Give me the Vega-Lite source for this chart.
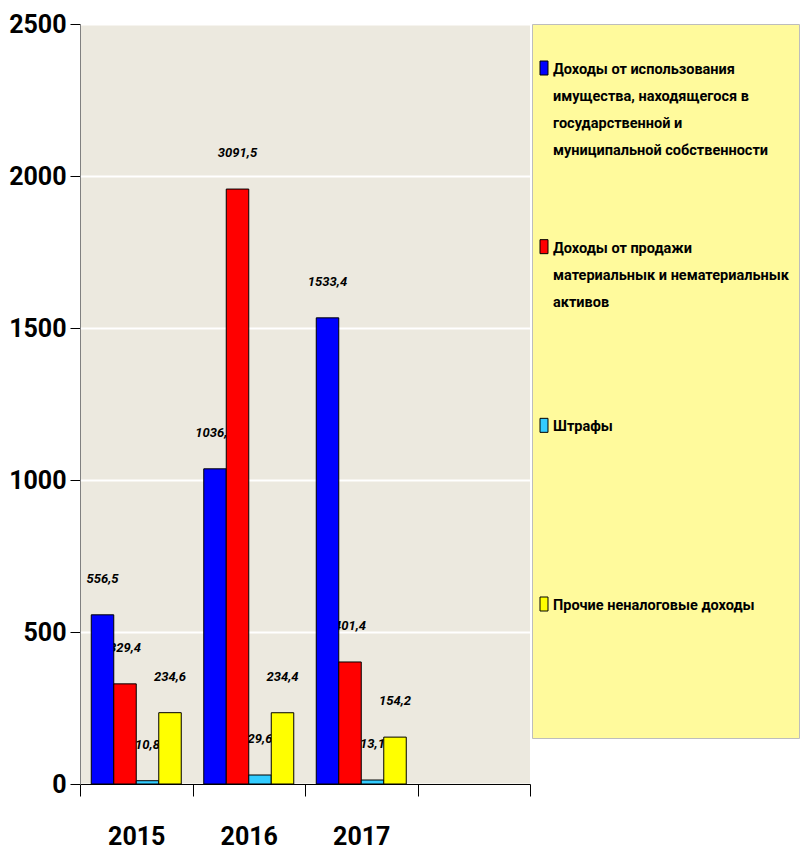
{
  "$schema": "https://vega.github.io/schema/vega-lite/v6.json",
  "background": "white",
  "padding": {"left": 8, "top": 12, "right": 0, "bottom": 0},
  "bounds": "flush",
  "spacing": 2,
  "config": {
    "font": "Roboto, Liberation Sans, sans-serif",
    "view": {"stroke": null}
  },
  "datasets": {
    "bars": [
      {"year": "2015", "series": "Доходы от использования имущества", "value": 556.5, "label": "556,5"},
      {"year": "2015", "series": "Доходы от продажи активов", "value": 329.4, "label": "329,4"},
      {"year": "2015", "series": "Штрафы", "value": 10.8, "label": "10,8"},
      {"year": "2015", "series": "Прочие неналоговые доходы", "value": 234.6, "label": "234,6"},
      {"year": "2016", "series": "Доходы от использования имущества", "value": 1036.8, "label": "1036,8"},
      {"year": "2016", "series": "Доходы от продажи активов", "value": 1957, "label": "3091,5"},
      {"year": "2016", "series": "Штрафы", "value": 29.6, "label": "29,6"},
      {"year": "2016", "series": "Прочие неналоговые доходы", "value": 234.4, "label": "234,4"},
      {"year": "2017", "series": "Доходы от использования имущества", "value": 1533.4, "label": "1533,4"},
      {"year": "2017", "series": "Доходы от продажи активов", "value": 401.4, "label": "401,4"},
      {"year": "2017", "series": "Штрафы", "value": 13.1, "label": "13,1"},
      {"year": "2017", "series": "Прочие неналоговые доходы", "value": 154.2, "label": "154,2"}
    ],
    "legend": [
      {"series": "Доходы от использования имущества", "lines": ["Доходы от использования", "имущества, находящегося в", "государственной и", "муниципальной собственности"]},
      {"series": "Доходы от продажи активов", "lines": ["Доходы от продажи", "материальнык и нематериальнык", "активов"]},
      {"series": "Штрафы", "lines": ["Штрафы"]},
      {"series": "Прочие неналоговые доходы", "lines": ["Прочие неналоговые доходы"]}
    ]
  },
  "hconcat": [
    {
      "width": 450,
      "height": 760,
      "view": {"fill": "#ECE9DF", "stroke": null},
      "data": {"name": "bars"},
      "encoding": {
        "x": {
          "field": "year", "type": "nominal",
          "scale": {"domain": ["2015", "2016", "2017", " "], "paddingInner": 0, "paddingOuter": 0},
          "axis": {
            "title": null, "labelAngle": 0, "labelFontSize": 25, "labelFontWeight": "bold",
            "labelColor": "black", "labelPadding": 28, "tickBand": "extent", "tickSize": 12,
            "tickColor": "black", "domainColor": "black", "grid": false
          }
        },
        "xOffset": {
          "field": "series", "type": "nominal",
          "scale": {"domain": ["Доходы от использования имущества", "Доходы от продажи активов", "Штрафы", "Прочие неналоговые доходы"], "paddingInner": 0, "paddingOuter": 0.5}
        },
        "y": {
          "field": "value", "type": "quantitative",
          "scale": {"domain": [0, 2500], "nice": false},
          "axis": {
            "title": null, "values": [0, 500, 1000, 1500, 2000, 2500], "format": "d", "labelFontSize": 25,
            "labelFontWeight": "bold", "labelColor": "black", "tickSize": 10, "tickColor": "black",
            "labelPadding": 4, "domainColor": "#808080", "grid": true, "gridColor": "white", "gridWidth": 2
          }
        }
      },
      "layer": [
        {
          "mark": {"type": "text", "dy": -36, "fontStyle": "italic", "fontWeight": "bold", "fontSize": 13, "baseline": "middle", "color": "black"},
          "encoding": {"text": {"field": "label", "type": "nominal"}}
        },
        {
          "mark": {"type": "bar", "stroke": "black", "strokeWidth": 1},
          "encoding": {
            "color": {
              "field": "series", "type": "nominal",
              "scale": {"domain": ["Доходы от использования имущества", "Доходы от продажи активов", "Штрафы", "Прочие неналоговые доходы"], "range": ["#0000FF", "#FF0000", "#33CCFF", "#FFFF00"]},
              "legend": null
            }
          }
        }
      ]
    },
    {
      "width": 267,
      "height": 714,
      "view": {"fill": "#FFFA9C", "stroke": "#BDBDBD"},
      "data": {"name": "legend"},
      "encoding": {
        "y": {
          "field": "series", "type": "nominal",
          "scale": {"type": "point", "padding": 0, "domain": ["Доходы от использования имущества", "Доходы от продажи активов", "Штрафы", "Прочие неналоговые доходы"], "range": [44, 580]},
          "axis": null
        }
      },
      "layer": [
        {
          "mark": {"type": "point", "shape": "M-0.57,-1L0.57,-1L0.57,1L-0.57,1Z", "size": 196, "filled": true, "stroke": "black", "strokeWidth": 1, "opacity": 1},
          "encoding": {
            "x": {"datum": 12, "type": "quantitative", "scale": {"domain": [0, 267], "nice": false, "zero": true}, "axis": null},
            "color": {
              "field": "series", "type": "nominal",
              "scale": {"domain": ["Доходы от использования имущества", "Доходы от продажи активов", "Штрафы", "Прочие неналоговые доходы"], "range": ["#0000FF", "#FF0000", "#33CCFF", "#FFFF00"]},
              "legend": null
            }
          }
        },
        {
          "mark": {"type": "text", "align": "left", "baseline": "alphabetic", "dy": 6, "fontSize": 14.5, "fontWeight": "bold", "lineHeight": 27, "color": "black"},
          "encoding": {
            "x": {"datum": 21, "type": "quantitative", "scale": {"domain": [0, 267], "nice": false, "zero": true}, "axis": null},
            "text": {"field": "lines", "type": "nominal"}
          }
        }
      ]
    }
  ]
}
